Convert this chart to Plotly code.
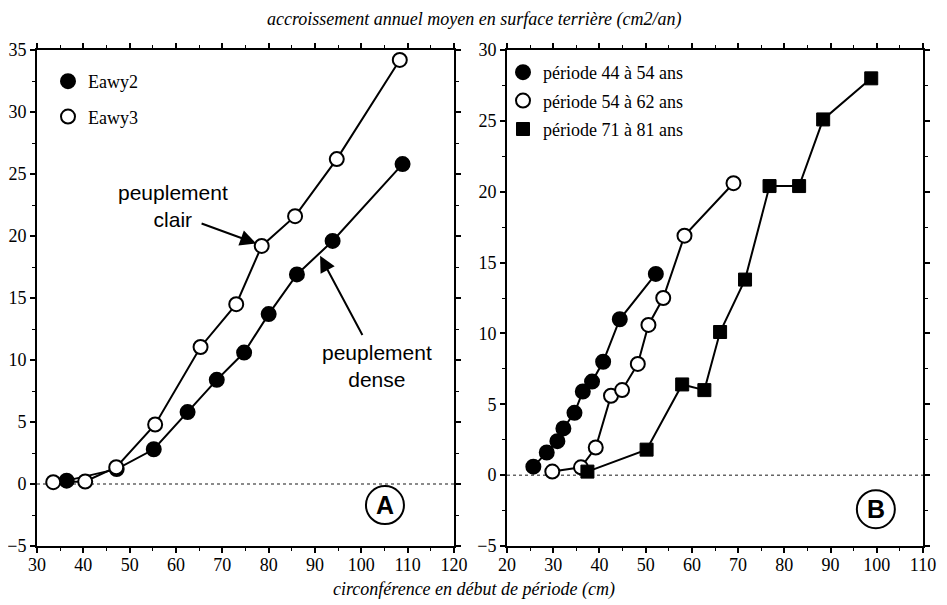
import plotly.graph_objects as go

# panel A : circumference (cm) / mean annual basal area increment (cm2/an)
a_x2 = [36.4, 47.2, 55.2, 62.5, 68.8, 74.7, 80.0, 86.1, 93.8, 108.9]
a_y2 = [0.27, 1.2, 2.8, 5.8, 8.4, 10.6, 13.7, 16.9, 19.6, 25.8]
a_x3 = [33.5, 40.4, 47.1, 55.5, 65.3, 73.0, 78.5, 85.7, 94.7, 108.3]
a_y3 = [0.15, 0.2, 1.35, 4.8, 11.05, 14.5, 19.2, 21.6, 26.2, 34.2]

# panel B : three periods
b_x1 = [25.7, 28.6, 30.9, 32.2, 34.6, 36.4, 38.4, 40.8, 44.4, 52.2]
b_y1 = [0.6, 1.6, 2.4, 3.3, 4.4, 5.9, 6.6, 8.0, 11.0, 14.2]
b_x2 = [29.8, 36.0, 39.2, 42.5, 44.9, 48.3, 50.6, 53.8, 58.4, 69.0]
b_y2 = [0.25, 0.55, 1.95, 5.6, 6.0, 7.85, 10.6, 12.5, 16.9, 20.6]
b_x3 = [37.4, 50.2, 57.9, 62.7, 66.1, 71.5, 76.8, 83.2, 88.4, 98.8]
b_y3 = [0.25, 1.8, 6.4, 6.0, 10.1, 13.8, 20.4, 20.4, 25.1, 28.0]

names_a = ['Eawy2', 'Eawy3']
names_b = ['période 44 à 54 ans', 'période 54 à 62 ans', 'période 71 à 81 ans']

# the page body has an 8px margin: the figure is drawn 8px in from the corner
OFF = 8
W, H = 947 - OFF, 605 - OFF
SERIF = 'Liberation Serif'
SANS = 'Liberation Sans'

FILLED = dict(symbol='circle', size=14, color='black', line=dict(color='black', width=2))
OPEN = dict(symbol='circle', size=14, color='white', line=dict(color='black', width=2))
SQUARE = dict(symbol='square', size=13, color='black', line=dict(color='black', width=1))


def px(x):
    return (x - OFF) / W


def py(y):
    return 1 - (y - OFF) / H


def addSeries(fig, xs, ys, marker, name, xa, ya, legend):
    fig.add_trace(go.Scatter(x=xs, y=ys, mode='lines+markers', marker=marker,
                             line=dict(color='black', width=2), showlegend=False,
                             xaxis=xa, yaxis=ya))
    # marker-only legend entry
    fig.add_trace(go.Scatter(x=[None], y=[None], mode='markers', marker=marker,
                             name=name, legend=legend, legendgroup=name,
                             xaxis=xa, yaxis=ya))


fig = go.Figure()
addSeries(fig, a_x2, a_y2, FILLED, names_a[0], 'x', 'y', 'legend')
addSeries(fig, a_x3, a_y3, OPEN, names_a[1], 'x', 'y', 'legend')
addSeries(fig, b_x1, b_y1, FILLED, names_b[0], 'x2', 'y2', 'legend2')
addSeries(fig, b_x2, b_y2, OPEN, names_b[1], 'x2', 'y2', 'legend2')
addSeries(fig, b_x3, b_y3, SQUARE, names_b[2], 'x2', 'y2', 'legend2')


def axisStyle(rng, dtick, minor, domain, anchor, standoff=0):
    return dict(range=rng, dtick=dtick, domain=domain, anchor=anchor,
                showline=True, linecolor='black', linewidth=2, mirror='ticks',
                ticks='outside', ticklen=5, tickwidth=1.5, tickcolor='black',
                minor=dict(dtick=minor, ticks='outside', ticklen=3, tickwidth=1, tickcolor='black'),
                showgrid=False, zeroline=False, automargin=False,
                ticklabelstandoff=standoff,
                tickfont=dict(family=SERIF, size=18, color='black'))


ydom = [py(546), py(50)]
fig.update_layout(
    width=W, height=H,
    margin=dict(l=0, r=0, t=0, b=0),
    paper_bgcolor='white', plot_bgcolor='white',
    xaxis=axisStyle([30, 120], 10, 5, [px(37), px(454)], 'y', -4),
    yaxis=axisStyle([-5, 35], 5, 2.5, ydom, 'x'),
    xaxis2=axisStyle([20, 110], 10, 5, [px(507), px(923)], 'y2', -4),
    yaxis2=axisStyle([-5, 30], 5, 2.5, ydom, 'x2'),
    legend=dict(x=px(48), y=py(63), xanchor='left', yanchor='top',
                font=dict(family=SERIF, size=18, color='black'),
                bgcolor='rgba(0,0,0,0)', traceorder='grouped', tracegroupgap=9),
    legend2=dict(x=px(503), y=py(54), xanchor='left', yanchor='top',
                 font=dict(family=SERIF, size=18, color='black'),
                 bgcolor='rgba(0,0,0,0)', traceorder='grouped', tracegroupgap=2),
)

# dotted zero lines
for xr, yr in [('x domain', 'y'), ('x2 domain', 'y2')]:
    fig.add_shape(type='line', xref=xr, yref=yr, x0=0, x1=1, y0=0, y1=0,
                  line=dict(color='#666666', width=1.5, dash='dot'), layer='below')

# circled panel letters
for xr, yr, cx, cy, letter in [('x', 'y', 105.1, -1.7, 'A'), ('x2', 'y2', 99.8, -2.4, 'B')]:
    fig.add_shape(type='circle', xref=xr, yref=yr, xsizemode='pixel', ysizemode='pixel',
                  xanchor=cx, yanchor=cy, x0=-19, x1=19, y0=-19, y1=19,
                  line=dict(color='black', width=2))
    fig.add_annotation(xref=xr, yref=yr, x=cx, y=cy, text='<b>%s</b>' % letter,
                       showarrow=False, font=dict(family=SANS, size=25, color='black'))

# labels and arrows in panel A
fig.add_annotation(xref='x', yref='y', x=59.4, y=22.4, text='peuplement<br>clair',
                   showarrow=False, align='center',
                   font=dict(family=SANS, size=21, color='black'))
fig.add_annotation(xref='x', yref='y', x=103.4, y=9.55, text='peuplement<br>dense',
                   showarrow=False, align='center',
                   font=dict(family=SANS, size=21, color='black'))
fig.add_annotation(xref='x', yref='y', axref='x', ayref='y', x=77.3, y=19.4,
                   ax=65.2, ay=21.05, text='', showarrow=True, arrowhead=2,
                   arrowsize=1.6, arrowwidth=2, arrowcolor='black')
fig.add_annotation(xref='x', yref='y', axref='x', ayref='y', x=91.1, y=18.4,
                   ax=100.4, ay=11.9, text='', showarrow=True, arrowhead=2,
                   arrowsize=1.6, arrowwidth=2, arrowcolor='black')

# titles
fig.add_annotation(xref='paper', yref='paper', x=px(474), y=py(20), yanchor='middle',
                   showarrow=False,
                   text='<i>accroissement annuel moyen en surface terrière (cm2/an)</i>',
                   font=dict(family=SERIF, size=18, color='black'))
fig.add_annotation(xref='paper', yref='paper', x=px(474), y=py(589), yanchor='middle',
                   showarrow=False,
                   text='<i>circonférence en début de période (cm)</i>',
                   font=dict(family=SERIF, size=18, color='black'))

fig.write_html("out.html")
